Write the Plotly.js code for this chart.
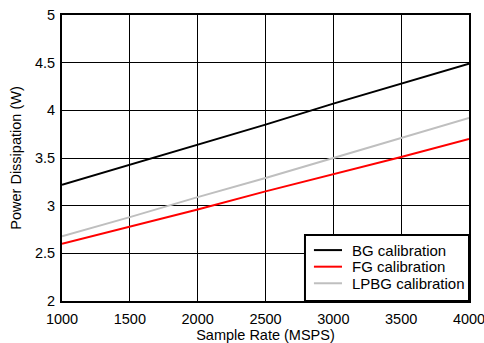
<!DOCTYPE html>
<html><head><meta charset="utf-8">
<script src="https://cdn.plot.ly/plotly-3.0.1.min.js"></script>
<style>html,body{margin:0;padding:0;background:#fff}</style>
</head><body><div id="chart" style="width:484px;height:343px"></div>
<script>
const sampleRate = [1000, 1500, 2000, 2500, 3000, 3500, 4000];
const bgCal = [3.22, 3.43, 3.64, 3.85, 4.07, 4.28, 4.49];
const fgCal = [2.60, 2.78, 2.96, 3.15, 3.33, 3.51, 3.70];
const lpbgCal = [2.68, 2.88, 3.09, 3.29, 3.50, 3.71, 3.92];
const seriesNames = ["BG calibration", "FG calibration", "LPBG calibration"];
const seriesColors = ["#000000", "#ff0000", "#bfbfbf"];
const xTicks = [1000, 1500, 2000, 2500, 3000, 3500, 4000];
const yTicks = [2, 2.5, 3, 3.5, 4, 4.5, 5];

const seriesValues = [bgCal, fgCal, lpbgCal];
const data = seriesValues.map((vals, i) => ({
  x: sampleRate, y: vals, name: seriesNames[i], mode: "lines",
  line: {color: seriesColors[i], width: 2}, showlegend: false
}));

const fam = "Liberation Sans, Arial, sans-serif";
// Custom legend box (paper coordinates) to match compact row spacing
const legX0 = 0.597, legY1 = 0.231;
const rowY = [0.178, 0.120, 0.062];
const shapes = [
  {type: "rect", xref: "paper", yref: "paper", x0: legX0, x1: 1, y0: 0, y1: legY1,
   fillcolor: "#fff", line: {color: "#000", width: 2}, layer: "above"}
];
const annotations = [];
seriesNames.forEach((n, i) => {
  shapes.push({type: "line", xref: "paper", yref: "paper", x0: 0.619, x1: 0.688,
               y0: rowY[i], y1: rowY[i], line: {color: seriesColors[i], width: 2}, layer: "above"});
  annotations.push({xref: "paper", yref: "paper", x: 0.708, y: rowY[i], xanchor: "left",
                    yanchor: "middle", text: n, showarrow: false,
                    font: {family: fam, size: 15, color: "#000"}});
});

const layout = {
  width: 484, height: 343,
  margin: {l: 62, r: 15, t: 15, b: 42},
  paper_bgcolor: "#fff", plot_bgcolor: "#fff",
  font: {family: fam, size: 14.5, color: "#000"},
  showlegend: false,
  shapes: shapes, annotations: annotations,
  xaxis: {range: [1000, 4000], tickvals: xTicks, ticktext: xTicks.map(String),
          showgrid: true, gridcolor: "#000", gridwidth: 1, zeroline: false,
          showline: true, linecolor: "#000", linewidth: 2, mirror: true, ticks: "",
          ticklabeloverflow: "allow", ticklabelstandoff: 4,
          tickfont: {family: fam, size: 14.5, color: "#000"},
          title: {text: "Sample Rate (MSPS)", font: {family: fam, size: 14.5, color: "#000"}, standoff: 0}},
  yaxis: {range: [2, 5], tickvals: yTicks, ticktext: yTicks.map(String),
          showgrid: true, gridcolor: "#000", gridwidth: 1, zeroline: false,
          showline: true, linecolor: "#000", linewidth: 2, mirror: true, ticks: "",
          ticklabelstandoff: 2,
          tickfont: {family: fam, size: 14.5, color: "#000"},
          title: {text: "Power Dissipation (W)", font: {family: fam, size: 14.5, color: "#000"}, standoff: 10}}
};
Plotly.newPlot("chart", data, layout, {displayModeBar: false, staticPlot: true});
</script></body></html>
